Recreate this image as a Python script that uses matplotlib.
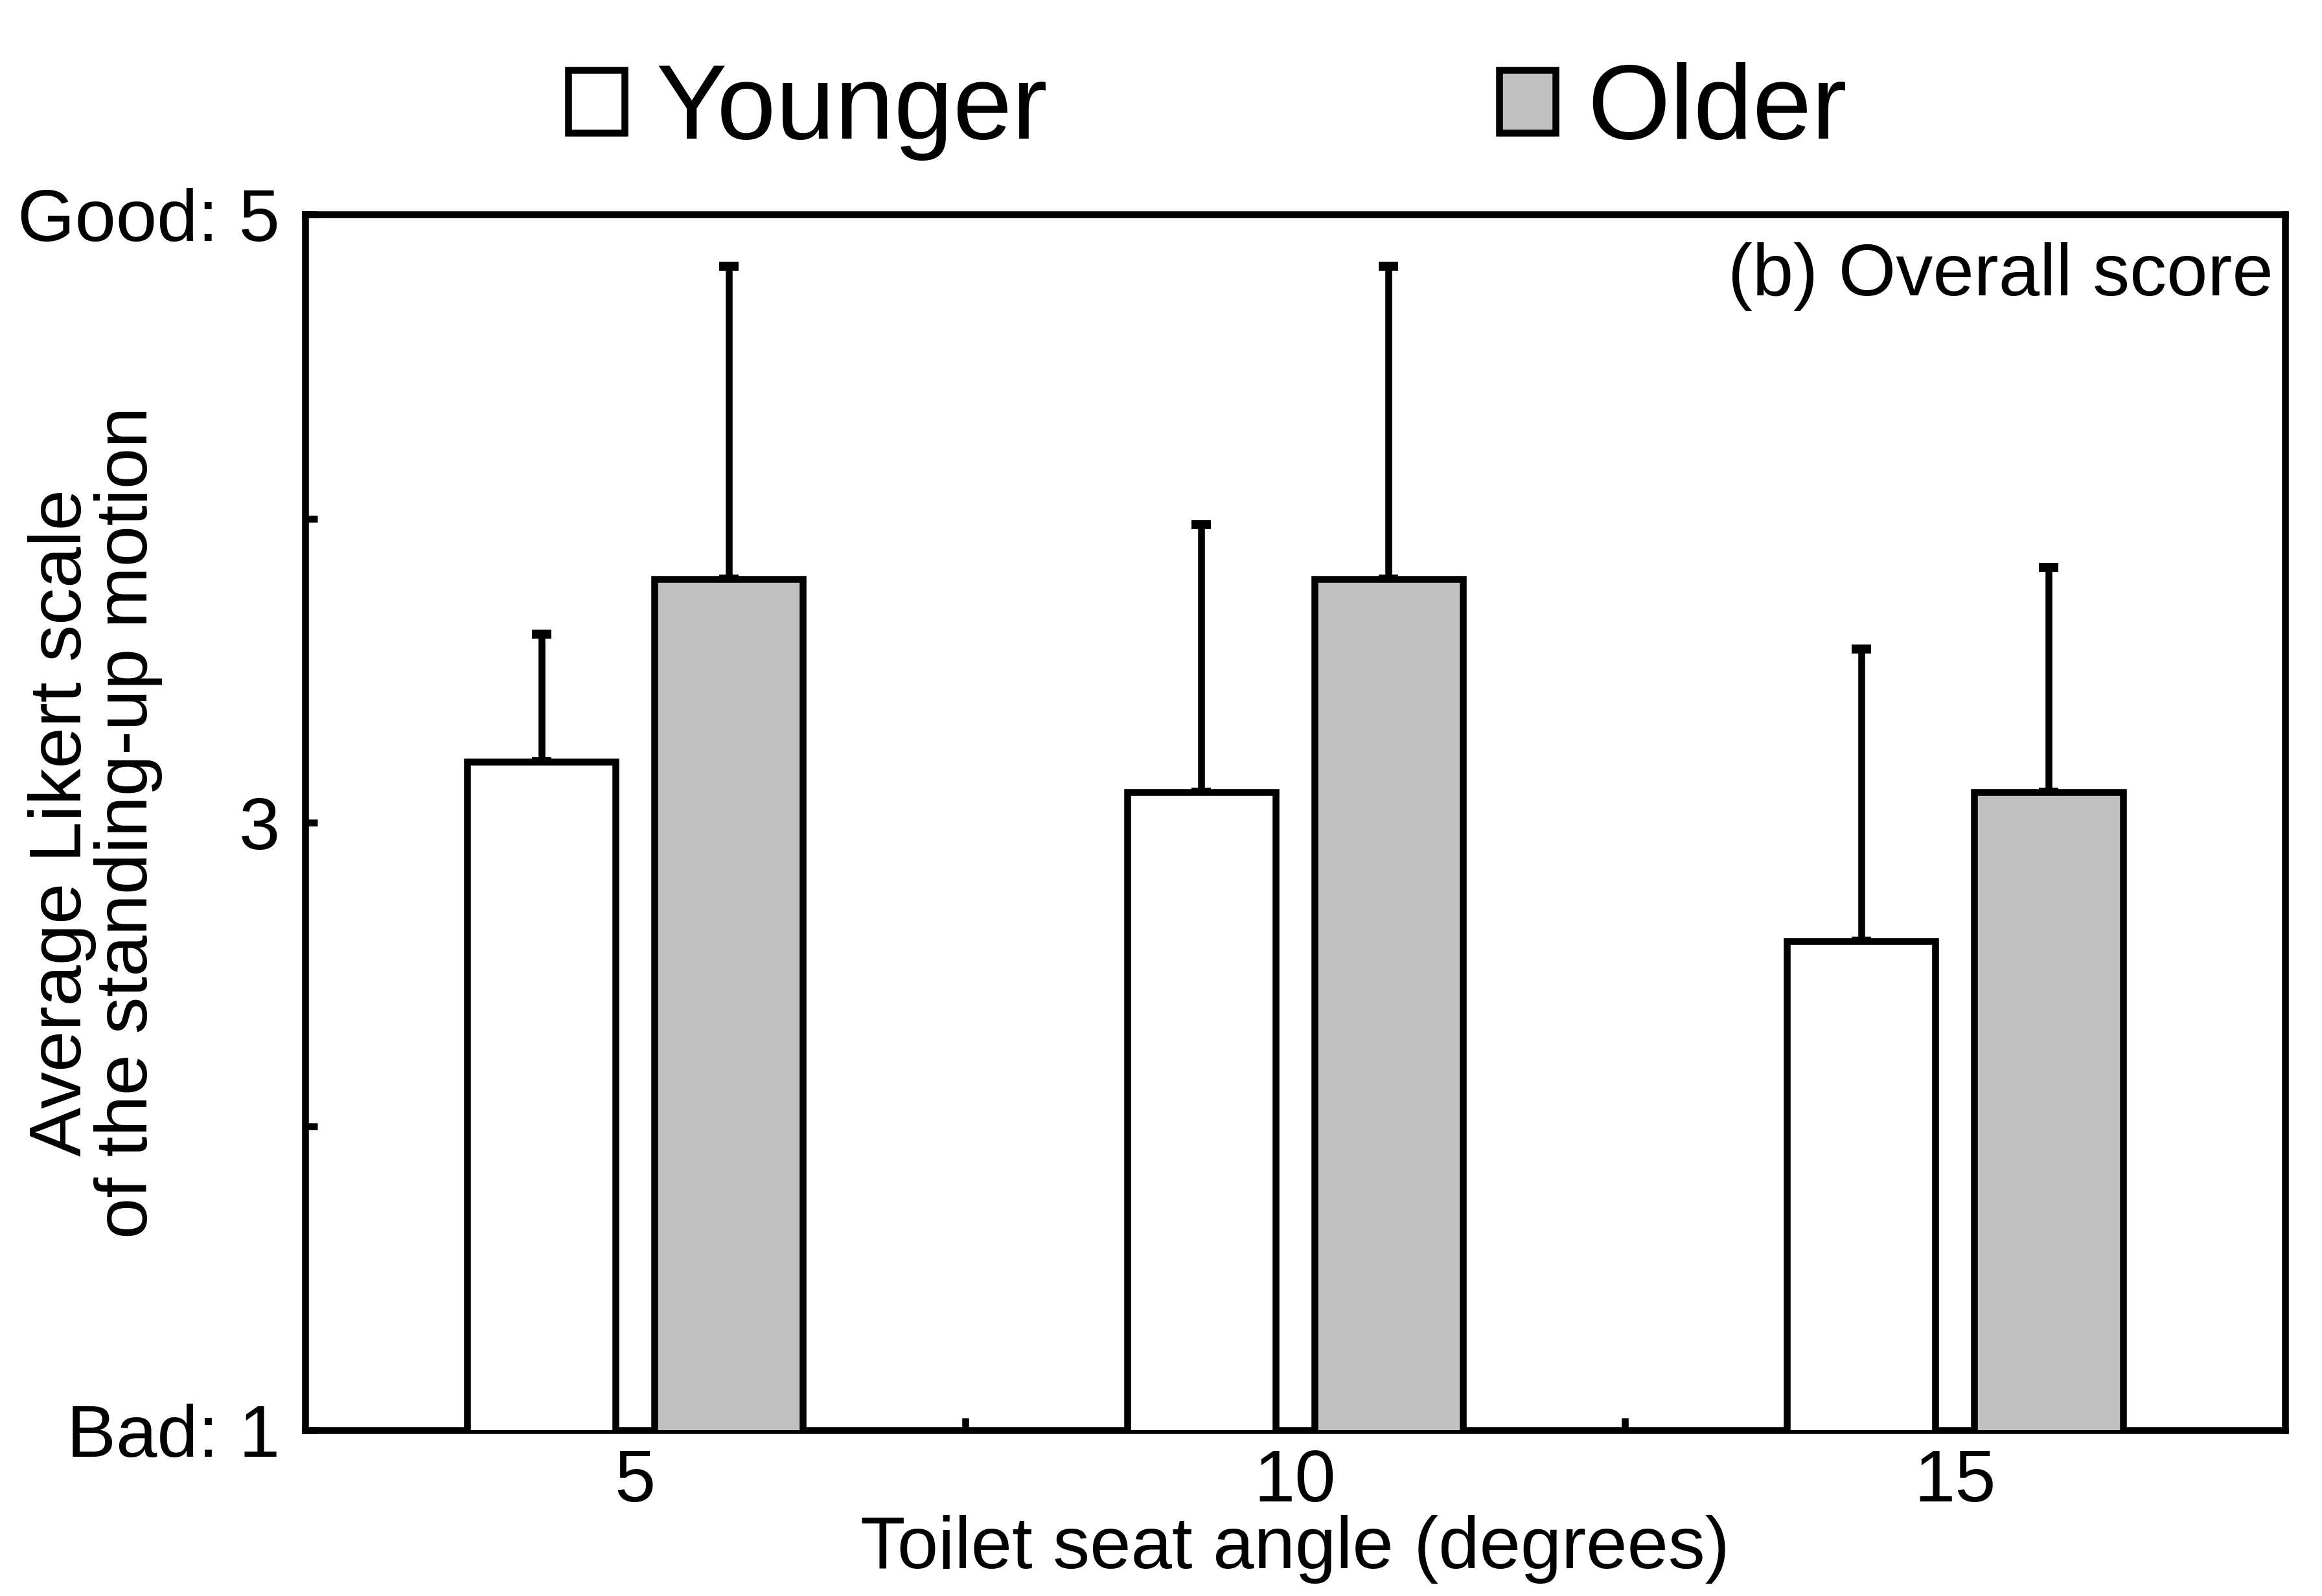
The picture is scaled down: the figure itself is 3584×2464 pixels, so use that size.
import matplotlib
matplotlib.use("Agg")
import matplotlib.pyplot as plt
from matplotlib.patches import Patch
import numpy as np

plt.rcParams['font.family'] = ['Liberation Sans', 'DejaVu Sans']

angles = ['5', '10', '15']
younger = [3.2, 3.1, 2.61]
younger_sd = [0.42, 0.88, 0.96]
older = [3.8, 3.8, 3.1]
older_sd = [1.03, 1.03, 0.74]

lw = 3.8
fs = 41
x = np.arange(len(angles))
w = 0.225
off = 0.142

fig = plt.figure(figsize=(17.92, 12.32), dpi=200)
ax = fig.add_axes([0.1314, 0.1039, 0.984 - 0.1314, 0.8655 - 0.1039])

ax.bar(x - off, younger, w, bottom=0, color='white', edgecolor='black', linewidth=lw, zorder=3)
ax.bar(x + off, older, w, bottom=0, color='#c0c0c0', edgecolor='black', linewidth=lw, zorder=3)
ax.errorbar(x - off, younger, yerr=[np.zeros(3), younger_sd], fmt='none', ecolor='black',
            elinewidth=3.8, capsize=5.5, capthick=5, zorder=2)
ax.errorbar(x + off, older, yerr=[np.zeros(3), older_sd], fmt='none', ecolor='black',
            elinewidth=3.8, capsize=5.5, capthick=5, zorder=2)

ax.set_xlim(-0.5, 2.5)
ax.set_ylim(1, 5)

ax.set_yticks([1, 3, 5])
ax.set_yticklabels(['Bad: 1', '3', 'Good: 5'])
ax.set_yticks([2, 4], minor=True)
ax.set_xticks(x)
ax.set_xticklabels(angles)
ax.set_xticks([0.5, 1.5], minor=True)

ax.tick_params(axis='y', which='both', direction='in', length=7, width=lw, labelsize=fs, pad=14)
ax.tick_params(axis='x', which='major', length=0, labelsize=fs, pad=10)
ax.tick_params(axis='x', which='minor', direction='in', length=7, width=lw)

for s in ax.spines.values():
    s.set_linewidth(lw)

ax.set_xlabel('Toilet seat angle (degrees)', fontsize=fs, labelpad=-1)
ax.set_ylabel('Average Likert scale\nof the standing-up motion', fontsize=fs, linespacing=0.95)
ax.yaxis.set_label_coords(-0.072, 0.5)

ax.text(0.994, 0.949, '(b) Overall score', transform=ax.transAxes, ha='right', va='center', fontsize=fs)

handles = [Patch(facecolor='white', edgecolor='black', linewidth=lw),
           Patch(facecolor='#c0c0c0', edgecolor='black', linewidth=lw)]
fig.legend(handles, ['Younger', 'Older'], loc='center', bbox_to_anchor=(0.52, 0.93), ncol=2,
           frameon=False, fontsize=59, handlelength=0.53, handleheight=0.53,
           handletextpad=0.3, columnspacing=4.25)

fig.savefig('out.png', dpi=200)
